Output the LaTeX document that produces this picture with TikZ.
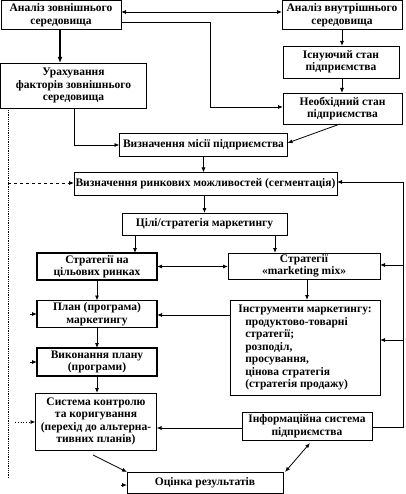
\documentclass[tikz,border=0pt]{standalone}
\usepackage{fontspec}
\setmainfont{Liberation Serif}
\usetikzlibrary{arrows.meta}

\begin{document}
\begin{tikzpicture}[x=1pt,y=-1pt,every node/.style={outer sep=0pt},font=\fontsize{11.5}{12.5}\selectfont\bfseries]
\tikzset{
    blk/.style = {draw,line width=0.8pt,align=center,inner sep=1pt},
    thickblk/.style = {blk,line width=1.6pt},
    arr/.style = {line width=0.8pt,-{Latex[length=5pt,width=4pt]}},
    darr/.style = {line width=0.8pt,{Latex[length=5pt,width=4pt]}-{Latex[length=5pt,width=4pt]}},
    fback/.style = {line width=0.8pt,densely dotted}
}
\useasboundingbox (0,0) rectangle (405,494);

%% top: environment analysis
\node (zovn) [blk,minimum width=120pt,minimum height=29pt] at (61,15) {Аналіз зовнішнього\\середовища};
\node (vnutr) [blk,minimum width=120pt,minimum height=29pt] at (342,15) {Аналіз внутрішнього\\середовища};
\node (isnuj) [blk,minimum width=116pt,minimum height=32pt] at (341,62) {Існуючий стан\\підприємства};
\node (urah) [blk,minimum width=146pt,minimum height=45pt] at (73.5,85.5) {Урахування\\факторів зовнішнього\\середовища};
\node (neobh) [blk,minimum width=119pt,minimum height=31pt] at (342.5,108.5) {Необхідний стан\\підприємства};

%% mission, segmentation, goals
\node (misia) [blk,minimum width=168pt,minimum height=23pt] at (203.5,144.5) {Визначення місії підприємства};
\node (segm) [blk,minimum width=263pt,minimum height=23pt] at (205.5,184) {Визначення ринкових можливостей (сегментація)};
\node (cili) [blk,minimum width=165pt,minimum height=22pt] at (204.5,224) {Цілі/стратегія маркетингу};

%% left column
\node (cilryn) [thickblk,minimum width=120pt,minimum height=27pt] at (97,266.5) {Стратегії на\\цільових ринках};
\node (plan) [thickblk,minimum width=120pt,minimum height=27pt] at (97,314) {План (програма)\\маркетингу};
\node (vykon) [thickblk,minimum width=120pt,minimum height=28pt] at (97,362) {Виконання плану\\(програми)};
\node (kontrol) [blk,minimum width=121pt,minimum height=57pt] at (96,421.5) {Система контролю\\та коригування\\(перехід до альтерна-\\тивних планів)};

%% right column
\node (mix) [blk,minimum width=152pt,minimum height=26pt] at (304,266) {Стратегії\\«marketing mix»};
\node (instr) [blk,minimum width=150pt,minimum height=95pt,align=left] at (305,347.5) {Інструменти маркетингу:\\
    \hspace*{7pt}продуктово-товарні\\\hspace*{7pt}стратегії;\\\hspace*{7pt}розподіл,\\
    \hspace*{7pt}просування,\\\hspace*{7pt}цінова стратегія\\\hspace*{7pt}(стратегія продажу)};
\node (inform) [blk,minimum width=130pt,minimum height=28pt] at (307,426) {Інформаційна система\\підприємства};
\node (ocinka) [blk,minimum width=156pt,minimum height=21pt] at (205,482.5) {Оцінка результатів};

%% top connectors
\draw [darr] (zovn.east |- 0,12) -- (vnutr.west |- 0,12);
\draw [arr] (zovn.east |- 0,22) -| (210,107) -- (neobh.west |- 0,107);
\draw [line width=1.6pt,-{Latex[length=6pt,width=5pt]}] (zovn.south -| 60,0) -- (urah.north -| 60,0);
\draw [arr] (vnutr.south -| 342,0) -- (isnuj.north -| 342,0);
\draw [arr] (isnuj.south -| 342,0) -- (neobh.north -| 342,0);
\draw [arr] (urah.south -| 74,0) |- (misia.west |- 0,145);
\draw [arr] (neobh.south -| 340,0) -- (misia.east |- 0,143);
\draw [arr] (misia.south) -- (misia.south |- segm.north);
\draw [arr] (cili.north |- segm.south) -- (cili.north);

%% strategies
\draw [arr] (cili.south -| 135,0) -- (cilryn.north -| 135,0);
\draw [arr] (cili.south -| 275,0) -- (mix.north -| 275,0);
\draw [darr] (cilryn.east) -- (mix.west |- cilryn.east);
\draw [arr] (cilryn.south) -- (plan.north);
\draw [arr] (mix.south -| 307,0) -- (instr.north -| 307,0);
\draw [arr] (instr.west |- 0,315) -- (plan.east |- 0,315);
\draw [arr] (plan.south) -- (vykon.north);
\draw [arr] (vykon.south) -- (vykon.south |- kontrol.north);
\draw [arr] (inform.west |- 0,428) -- (kontrol.east |- 0,428);
\draw [arr] ([xshift=-3pt,yshift=-5pt]kontrol.south) -- (ocinka.north west);
\draw [darr] ([xshift=3pt,yshift=-3pt]inform.south) -- ([xshift=2pt]ocinka.north east);

%% feedback on the right
\coordinate (rb) at (403,427);
\coordinate (rt) at (403,182);
\draw [arr] (inform.east |- rb) -- (rb) -- (rt) -- (segm.east |- rt);
\draw [arr] (rt |- 0,265) -- (mix.east |- 0,265);
\draw [arr] (rt |- 0,340) -- (instr.east |- 0,340);

%% feedback on the left
\coordinate (lt) at (8,110);
\coordinate (lb) at (8,478);
\draw [fback] (lt) -- (lb);
\draw [arr,dashed] (lt |- 0,183) -- (segm.west |- 0,183);
\draw [arr,dotted] (15,422) -- (kontrol.west |- 0,422);
\draw [arr] (30,314) -- (plan.west |- 0,314);
\draw [arr] (30,362) -- (vykon.west |- 0,362);
\draw [arr] (121,485) -- (ocinka.west |- 0,485);

\end{tikzpicture}
\end{document}
